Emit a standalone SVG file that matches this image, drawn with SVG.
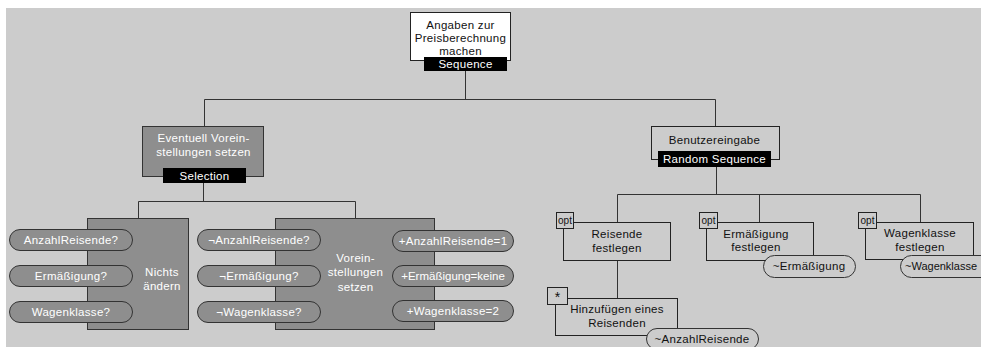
<svg xmlns="http://www.w3.org/2000/svg" width="981" height="347" viewBox="0 0 981 347">
<style>
text{font-family:"Liberation Sans",Arial,sans-serif;font-size:11.5px;text-anchor:middle;letter-spacing:0.3px}
.bg{fill:#cccccc}
.box{fill:#cccccc;stroke:#222;stroke-width:1}
.dbox{fill:#8e8e8e;stroke:#333;stroke-width:1}
.pill{fill:#8e8e8e;stroke:#333;stroke-width:1}
.lpill{fill:#cccccc;stroke:#333;stroke-width:1}
.bar{fill:#000}
.w{fill:#fff}
.k{fill:#111}
.tag{fill:#cccccc;stroke:#222;stroke-width:1}
.conn{stroke:#333;stroke-width:1;fill:none}
</style>
<rect x="0" y="0" width="981" height="347" fill="#fff"/>
<rect class="bg" x="6" y="8" width="975" height="339"/>
<g id="connectors">
<path class="conn" d="M465.5 71V99.5M204.5 99.5H715.5M204.5 99.5V126M715.5 99.5V127"/>
<path class="conn" d="M203.5 183V201.5M138.5 201.5H355.5M138.5 201.5V218M355.5 201.5V218"/>
<path class="conn" d="M716.5 167V194.5M617.5 194.5H920.5M617.5 194.5V222M759.5 194.5V222M920.5 194.5V222M617.5 261V298"/>
</g>
<g id="root">
<rect x="410.5" y="12.5" width="100" height="48" fill="#fff" stroke="#222"/>
<text class="k" x="460.5" y="29">Angaben zur</text>
<text class="k" x="460.5" y="42">Preisberechnung</text>
<text class="k" x="460.5" y="55">machen</text>
<rect class="bar" x="424" y="57" width="83" height="14"/>
<text class="w" x="465.5" y="68">Sequence</text>
</g>
<g id="eventuell">
<rect class="dbox" x="142.5" y="126.5" width="121" height="50"/>
<text class="w" x="203.5" y="142">Eventuell Vorein-</text>
<text class="w" x="203.5" y="156">stellungen setzen</text>
<rect class="bar" x="163" y="168" width="83" height="15"/>
<text class="w" x="204.5" y="180">Selection</text>
</g>
<g id="benutzereingabe">
<rect class="box" x="651.5" y="126.5" width="128" height="33"/>
<text class="k" x="714.5" y="144">Benutzereingabe</text>
<rect class="bar" x="658" y="151" width="113" height="16"/>
<text class="w" x="714.5" y="163">Random Sequence</text>
</g>
<g id="nichts">
<rect class="dbox" x="87.5" y="218.5" width="101" height="111"/>
<text class="w" x="162" y="276">Nichts</text>
<text class="w" x="162" y="290">ändern</text>
</g>
<g id="cond-anzahl">
<rect class="pill" x="9.5" y="229.5" width="123" height="21" rx="10.5"/>
<text class="w" x="71" y="244">AnzahlReisende?</text>
</g>
<g id="cond-erm">
<rect class="pill" x="9.5" y="265.5" width="123" height="21" rx="10.5"/>
<text class="w" x="71" y="280">Ermäßigung?</text>
</g>
<g id="cond-wagen">
<rect class="pill" x="9.5" y="301.5" width="123" height="21" rx="10.5"/>
<text class="w" x="71" y="316">Wagenklasse?</text>
</g>
<g id="voreinstellungen">
<rect class="dbox" x="275.5" y="218.5" width="159" height="111"/>
<text class="w" x="355.5" y="262">Vorein-</text>
<text class="w" x="355.5" y="276">stellungen</text>
<text class="w" x="355.5" y="291">setzen</text>
</g>
<g id="cond-nanzahl">
<rect class="pill" x="197.5" y="229.5" width="123" height="21" rx="10.5"/>
<text class="w" x="259" y="244">¬AnzahlReisende?</text>
</g>
<g id="cond-nerm">
<rect class="pill" x="197.5" y="265.5" width="123" height="21" rx="10.5"/>
<text class="w" x="259" y="280">¬Ermäßigung?</text>
</g>
<g id="cond-nwagen">
<rect class="pill" x="197.5" y="301.5" width="123" height="21" rx="10.5"/>
<text class="w" x="259" y="316">¬Wagenklasse?</text>
</g>
<g id="set-anzahl">
<rect class="pill" x="392.5" y="230.5" width="121" height="21" rx="10.5"/>
<text class="w" x="453" y="245">+AnzahlReisende=1</text>
</g>
<g id="set-erm">
<rect class="pill" x="392.5" y="265.5" width="121" height="21" rx="10.5"/>
<text class="w" x="453" y="280" style="letter-spacing:0">+Ermäßigung=keine</text>
</g>
<g id="set-wagen">
<rect class="pill" x="392.5" y="300.5" width="121" height="21" rx="10.5"/>
<text class="w" x="453" y="315">+Wagenklasse=2</text>
</g>
<g id="reisende">
<rect class="box" x="563.5" y="222.5" width="107" height="38"/>
<text class="k" x="617" y="238">Reisende</text>
<text class="k" x="617" y="252">festlegen</text>
<rect class="tag" x="556.5" y="212.5" width="17" height="16"/>
<text class="k" x="565" y="224" style="font-size:10px;letter-spacing:0">opt</text>
</g>
<g id="hinzufuegen">
<rect class="box" x="555.5" y="298.5" width="122" height="37"/>
<text class="k" x="617" y="313">Hinzufügen eines</text>
<text class="k" x="617" y="327">Reisenden</text>
<rect class="tag" x="547.5" y="287.5" width="20" height="17"/>
<text class="k" x="557.5" y="302" style="font-size:14px">*</text>
</g>
<g id="anzahl-result">
<rect class="lpill" x="646.5" y="328.5" width="112" height="21" rx="10.5"/>
<text class="k" x="702" y="343">~AnzahlReisende</text>
</g>
<g id="ermaessigung">
<rect class="box" x="706.5" y="222.5" width="107" height="38"/>
<text class="k" x="756" y="238">Ermäßigung</text>
<text class="k" x="756" y="251">festlegen</text>
<rect class="tag" x="699.5" y="212.5" width="18" height="16"/>
<text class="k" x="708.5" y="224" style="font-size:10px;letter-spacing:0">opt</text>
<rect class="lpill" x="763.5" y="255.5" width="92" height="22" rx="11"/>
<text class="k" x="809" y="270">~Ermäßigung</text>
</g>
<g id="wagenklasse">
<rect class="box" x="865.5" y="222.5" width="108" height="37"/>
<text class="k" x="920" y="237">Wagenklasse</text>
<text class="k" x="920" y="251">festlegen</text>
<rect class="tag" x="858.5" y="212.5" width="18" height="16"/>
<text class="k" x="867.5" y="224" style="font-size:10px;letter-spacing:0">opt</text>
<rect class="lpill" x="900.5" y="255.5" width="100" height="22" rx="11"/>
<text class="k" x="905" y="270" style="text-anchor:start;font-size:11px;letter-spacing:0">~Wagenklasse</text>
</g>
</svg>
